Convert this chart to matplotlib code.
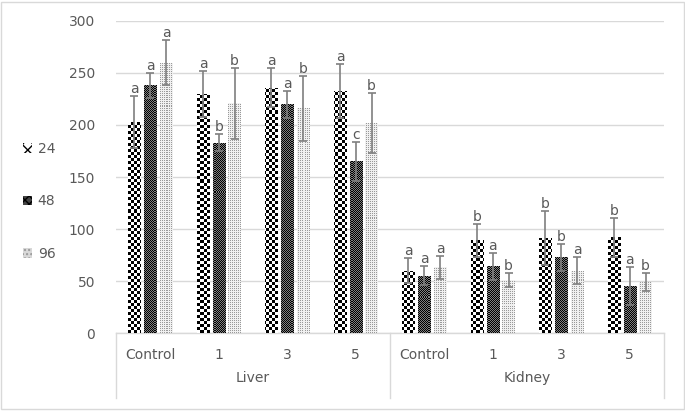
import numpy as np
import matplotlib
matplotlib.use('Agg')
import matplotlib.pyplot as plt
from matplotlib.patches import Patch, Rectangle

plt.rcParams['font.family'] = ['DejaVu Sans']

groups = ['Control', '1', '3', '5', 'Control', '1', '3', '5']
organs = ['Liver', 'Kidney']
series = ['24', '48', '96']

v24 = [203, 230, 236, 233, 60, 89, 91, 92]
e24 = [25, 22, 19, 26, 12, 16, 26, 19]
v48 = [238, 183, 220, 165, 55, 64, 73, 45]
e48 = [12, 8, 13, 19, 9, 13, 13, 18]
v96 = [260, 221, 216, 202, 63, 51, 60, 49]
e96 = [22, 34, 31, 29, 11, 7, 13, 9]

l24 = ['a', 'a', 'a', 'a', 'a', 'b', 'b', 'b']
l48 = ['a', 'b', 'a', 'c', 'a', 'a', 'b', 'a']
l96 = ['a', 'b', 'b', 'b', 'a', 'b', 'a', 'b']

txt = '#595959'
W, H = 685, 411
fig = plt.figure(figsize=(W / 100, H / 100), dpi=100)
ax = fig.add_axes([116 / W, 78 / H, 548 / W, 312 / H])
ax.set_xlim(-0.5, 7.5)
ax.set_ylim(0, 300)

# pixel textures covering the whole axes, clipped to each bar
yy, xx = np.mgrid[0:312, 0:548]
tex24 = np.where(((yy // 3) + (xx // 3)) % 2 == 0, 0.0, 1.0)
tex48 = np.where((yy + xx) % 2 == 0, 0.0, 0.5)
tex96 = np.where(((yy % 2) == 0) & ((xx % 2) == 0), 0.6, 0.94)
textures = [tex24, tex48, tex96]

x = np.arange(len(groups))
w = 0.18
pitch = 0.23
vals = [v24, v48, v96]
errs = [e24, e48, e96]
labs = [l24, l48, l96]
for k in range(3):
    pos = x + (k - 1) * pitch
    bars = ax.bar(pos, vals[k], width=w, color='white', linewidth=0, zorder=2)
    for b in bars:
        im = ax.imshow(textures[k], cmap='gray', vmin=0, vmax=1,
                       extent=(-0.5, 7.5, 0, 300), origin='lower',
                       interpolation='nearest', aspect='auto', zorder=3)
        im.set_clip_path(b)
    ax.errorbar(pos, vals[k], yerr=errs[k], fmt='none', ecolor='#7f7f7f',
                elinewidth=1.2, capsize=3, capthick=1.2, zorder=4)
    for p, v, e, s in zip(pos, vals[k], errs[k], labs[k]):
        ax.text(p, v + e, s, ha='center', va='bottom', fontsize=10,
                color=txt, zorder=5)

ax.set_xlim(-0.5, 7.5)
ax.set_ylim(0, 300)
ax.set_yticks(range(0, 301, 50))
ax.yaxis.grid(True, color='#d9d9d9', linewidth=1)
ax.set_axisbelow(True)
ax.tick_params(axis='y', length=0, pad=15, labelsize=10, labelcolor=txt)
ax.set_xticks([])
for s in ax.spines.values():
    s.set_visible(False)

# category table under the axis
tr = ax.get_xaxis_transform()
ax.plot([-0.5, 7.5], [0, 0], color='#d9d9d9', lw=1, transform=tr, clip_on=False)
for xv in [-0.5, 3.5, 7.5]:
    ax.plot([xv, xv], [0, -0.208], color='#d9d9d9', lw=1, transform=tr, clip_on=False)
for i, g in enumerate(groups):
    ax.text(i, -0.07, g, ha='center', va='center', fontsize=10, color=txt,
            transform=tr)
for j, o in enumerate(organs):
    ax.text(1.5 + 4 * j, -0.144, o, ha='center', va='center', fontsize=10,
            color=txt, transform=tr)

handles = [Patch(facecolor='white', edgecolor='black', hatch='xxx', linewidth=0),
           Patch(facecolor='#444444', edgecolor='black', hatch='xxxx', linewidth=0),
           Patch(facecolor='#d8d8d8', edgecolor='#999999', hatch='....', linewidth=0)]
fig.legend(handles, series, loc='center left', bbox_to_anchor=(10 / W, 0.51),
           frameon=False, fontsize=10, labelcolor=txt, handlelength=0.7,
           handleheight=0.7, handletextpad=0.4, labelspacing=2.75)

fig.add_artist(Rectangle((0.002, 0.004), 0.996, 0.992, transform=fig.transFigure,
                         fill=False, edgecolor='#d9d9d9', lw=1))

fig.savefig('out.png', dpi=100)
